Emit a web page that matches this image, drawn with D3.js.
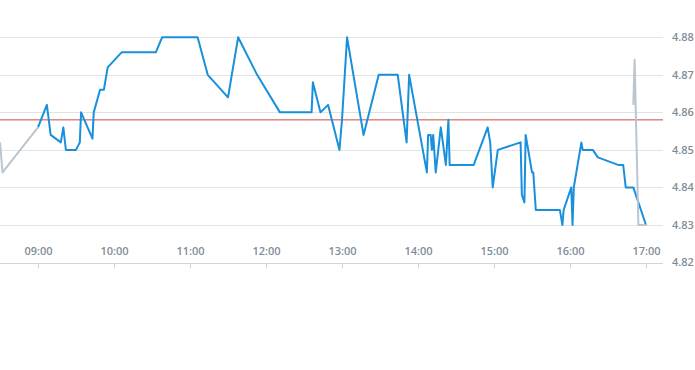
<!DOCTYPE html>
<html>
<head>
<meta charset="utf-8">
<script src="https://cdn.jsdelivr.net/npm/d3@7"></script>
<style>
  body { margin: 0; background: #fff; }
  svg text { font-family: "Open Sans", sans-serif; font-size: 11px; font-weight: 600; fill: #7f8d99; }
</style>
</head>
<body>
<div id="chart"></div>
<script>
// main session prices (time, price)
var sessionTimes = ["09:00","09:07","09:10","09:18","09:20","09:22","09:30","09:33","09:34","09:43",
    "09:44","09:49","09:52","09:55","10:06","10:33","10:38","11:06","11:14","11:30",
    "11:38","11:53","12:11","12:36","12:37","12:43","12:49","12:58","13:00","13:04",
    "13:17","13:29","13:44","13:51","13:53","14:07","14:08","14:10","14:11","14:12",
    "14:14","14:18","14:22","14:24","14:25","14:44","14:55","14:57","14:59","15:03",
    "15:21","15:22","15:24","15:25","15:30","15:31","15:33","15:52","15:54","15:55",
    "16:01","16:02","16:03","16:09","16:10","16:18","16:22","16:38","16:42","16:44",
    "16:50","17:00"];
var sessionPrices = [4.856,4.862,4.854,4.852,4.856,4.850,4.850,4.852,4.860,4.853,
    4.860,4.866,4.866,4.872,4.876,4.876,4.880,4.880,4.870,4.864,
    4.880,4.870,4.860,4.860,4.868,4.860,4.862,4.850,4.858,4.880,
    4.854,4.870,4.870,4.852,4.870,4.844,4.854,4.854,4.850,4.854,
    4.844,4.856,4.846,4.858,4.846,4.846,4.856,4.852,4.840,4.850,
    4.852,4.838,4.836,4.854,4.844,4.844,4.834,4.834,4.830,4.834,
    4.840,4.830,4.840,4.852,4.850,4.850,4.848,4.846,4.846,4.840,
    4.840,4.830];

// extended hours prices (pre- and after-market), drawn in grey
var preTimes = ["08:30","08:32","09:00"];
var prePrices = [4.852,4.844,4.856];
var postTimes = ["16:50","16:51","16:54","17:00"];
var postPrices = [4.862,4.874,4.830,4.830];

var prevClose = 4.858;

var xTicks = ["09:00","10:00","11:00","12:00","13:00","14:00","15:00","16:00","17:00"];
var yTicks = [4.82,4.83,4.84,4.85,4.86,4.87,4.88];

var parseTime = d3.timeParse("%H:%M");

function toPoints(times, prices) {
    return times.map(function(t, i) { return {t: parseTime(t), v: prices[i]}; });
}

var width = 695, height = 370;
var plotRight = 646, gridRight = 663;

var svg = d3.select("#chart").append("svg")
    .attr("width", width)
    .attr("height", height);

var x = d3.scaleTime()
    .domain([parseTime("08:30"), parseTime("17:00")])
    .range([0, plotRight]);

var y = d3.scaleLinear()
    .domain([4.82, 4.88])
    .range([262.5, 37.3]);

//Horizontal grid lines
svg.append("g")
    .selectAll("line")
    .data(yTicks.slice(1))
    .enter().append("line")
    .attr("x1", 0)
    .attr("x2", gridRight)
    .attr("y1", function(d) { return Math.round(y(d)) + 0.5; })
    .attr("y2", function(d) { return Math.round(y(d)) + 0.5; })
    .style("stroke", "#e3e3e3")
    .style("stroke-width", 1);

//X axis
var xAxis = d3.axisBottom(x)
    .tickValues(xTicks.map(parseTime))
    .tickFormat(d3.timeFormat("%H:%M"))
    .tickSize(5)
    .tickSizeOuter(0);

var gx = svg.append("g")
    .attr("transform", "translate(0," + (Math.round(y(4.82)) + 0.5) + ")")
    .call(xAxis);
gx.select(".domain").attr("d", "M0,0H" + gridRight).style("stroke", "#ccd6e0");
gx.selectAll(".tick line").style("stroke", "#ccd6e0");
gx.selectAll(".tick text").attr("y", -9).attr("dy", "0").style("fill", null);

//Y labels on the right
svg.append("g")
    .selectAll("text")
    .data(yTicks)
    .enter().append("text")
    .attr("x", 672)
    .attr("y", function(d) { return y(d); })
    .attr("dy", "0.35em")
    .text(function(d) { return d.toFixed(2); });

var line = d3.line()
    .x(function(d) { return x(d.t); })
    .y(function(d) { return y(d.v); });

//Previous close
svg.append("line")
    .attr("x1", 0)
    .attr("x2", gridRight)
    .attr("y1", y(prevClose))
    .attr("y2", y(prevClose))
    .style("stroke", "#d0453f")
    .style("stroke-width", 1);

svg.append("path")
    .datum(toPoints(sessionTimes, sessionPrices))
    .attr("d", line)
    .style("fill", "none")
    .style("stroke", "#1890dc")
    .style("stroke-width", 2)
    .style("stroke-linejoin", "round");

[toPoints(preTimes, prePrices), toPoints(postTimes, postPrices)].forEach(function(pts) {
    svg.append("path")
        .datum(pts)
        .attr("d", line)
        .style("fill", "none")
        .style("stroke", "#bac6cf")
        .style("stroke-width", 2)
        .style("stroke-linejoin", "round");
});
</script>
</body>
</html>
